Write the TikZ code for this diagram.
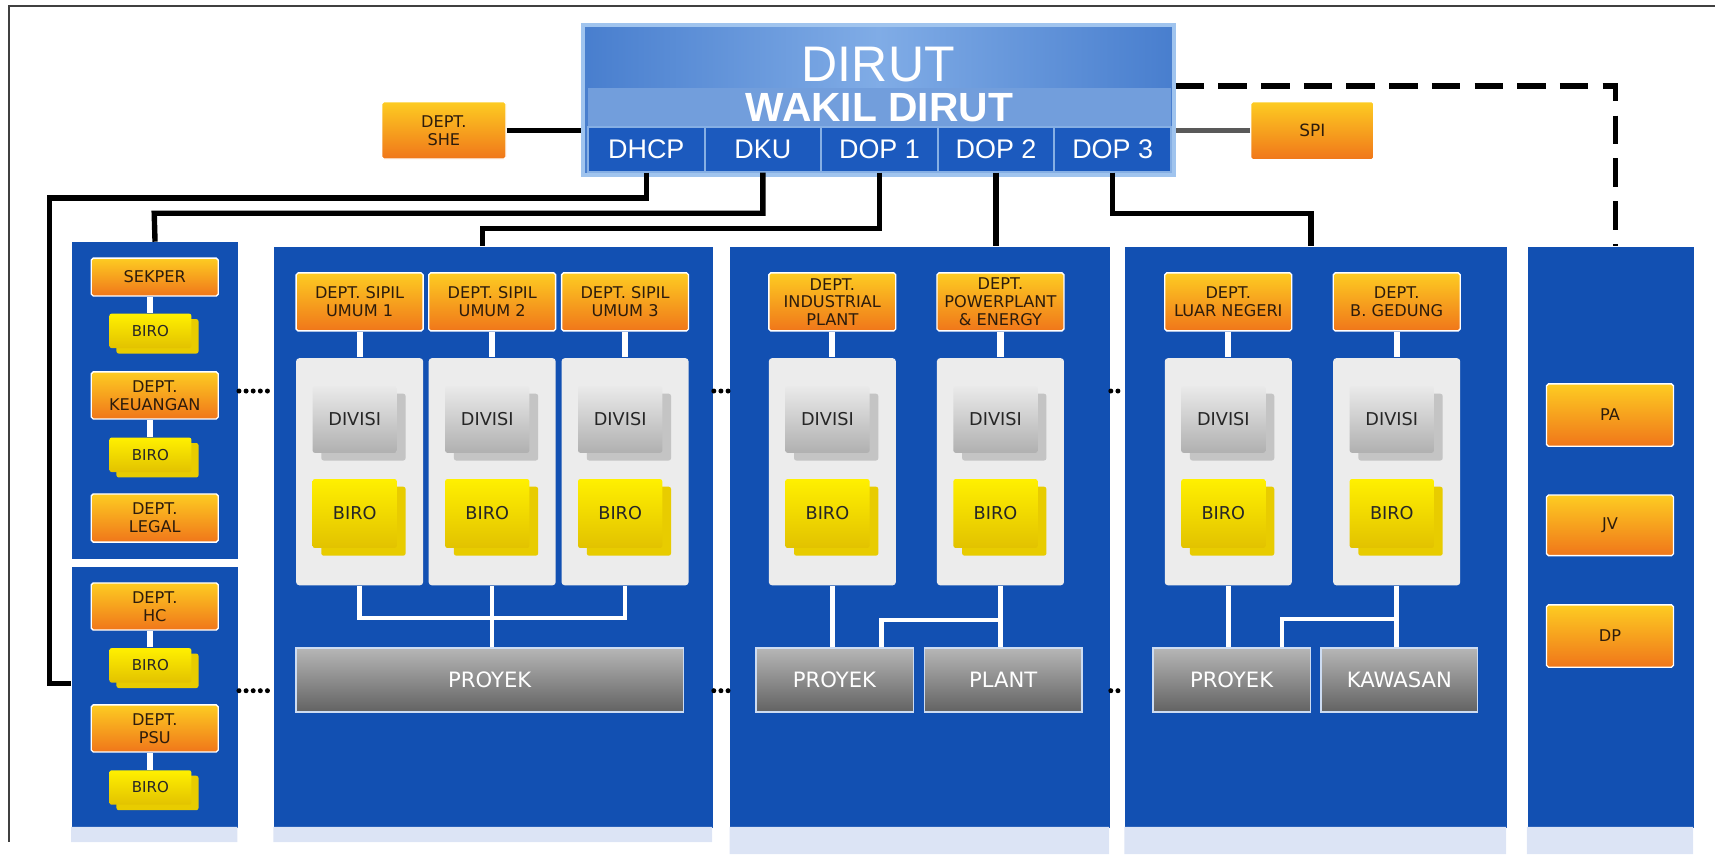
\documentclass[tikz,border=0pt]{standalone}
\usepackage{fontspec}
\setmainfont{DejaVu Sans}
\newfontfamily\headfont{Liberation Sans}
\usetikzlibrary{shadows}

\definecolor{panelblue}{RGB}{18,80,178}
\definecolor{stripblue}{RGB}{220,228,245}
\definecolor{deptTop}{RGB}{253,204,34}
\definecolor{deptBot}{RGB}{240,118,26}
\definecolor{deptText}{RGB}{45,28,12}
\definecolor{contGray}{RGB}{236,236,236}
\definecolor{divTop}{RGB}{234,234,234}
\definecolor{divBot}{RGB}{176,176,176}
\definecolor{divBack}{RGB}{196,196,196}
\definecolor{biroTop}{RGB}{255,240,0}
\definecolor{biroBot}{RGB}{226,194,0}
\definecolor{biroBack}{RGB}{232,204,0}
\definecolor{unitTop}{RGB}{182,182,182}
\definecolor{unitBot}{RGB}{98,98,98}
\definecolor{unitEdge}{RGB}{205,220,242}
\definecolor{dirutA}{RGB}{72,126,206}
\definecolor{dirutB}{RGB}{128,172,230}
\definecolor{dirutEdge}{RGB}{160,196,238}
\definecolor{wakilBand}{RGB}{114,158,220}
\definecolor{cellBlue}{RGB}{28,90,190}

\tikzset{
  panel/.style={fill=panelblue, anchor=north west, inner sep=0pt},
  orangebox/.style={top color=deptTop, bottom color=deptBot, draw=white,
    line width=0.35pt, rounded corners=0.5pt, text=deptText, align=center,
    inner sep=0pt, font=\fontsize{4.2}{4.6}\selectfont},
  dept/.style={orangebox, minimum width=1.16cm, minimum height=0.53cm},
  sidedept/.style={orangebox, minimum width=1.16cm, minimum height=0.43cm},
  cont/.style={fill=contGray, rounded corners=0.8pt, inner sep=0pt,
    minimum width=1.16cm, minimum height=2.075cm},
  divisi/.style={top color=divTop, bottom color=divBot, rounded corners=0.6pt,
    inner sep=0pt, minimum width=0.77cm, minimum height=0.61cm, text=black!85,
    font=\fontsize{4.6}{5}\selectfont,
    general shadow={fill=divBack, shadow xshift=0.08cm, shadow yshift=-0.07cm}},
  birobase/.style={top color=biroTop, bottom color=biroBot, rounded corners=0.6pt,
    inner sep=0pt, text=black!85},
  biro/.style={birobase, minimum width=0.77cm, minimum height=0.63cm,
    font=\fontsize{4.6}{5}\selectfont,
    general shadow={fill=biroBack, shadow xshift=0.08cm, shadow yshift=-0.07cm}},
  sidebiro/.style={birobase, minimum width=0.75cm, minimum height=0.315cm,
    font=\fontsize{3.9}{4}\selectfont,
    general shadow={fill=biroBack, shadow xshift=0.065cm, shadow yshift=-0.05cm}},
  unit/.style={top color=unitTop, bottom color=unitBot, draw=unitEdge,
    line width=0.4pt, text=white, inner sep=0pt, minimum height=0.584cm,
    font=\fontsize{5.5}{6}\selectfont},
  cell/.style={fill=cellBlue, draw=dirutEdge!80!cellBlue, line width=0.5pt,
    inner sep=0pt, minimum width=1.066cm, minimum height=0.41cm, text=white,
    font=\headfont\fontsize{7}{7}\selectfont},
  link/.style={line width=1.4pt, black},
  dashlink/.style={line width=1.5pt, black, dash pattern=on 7.4pt off 3.7pt},
  wire/.style={line width=1.6pt, white},
  thinwire/.style={line width=1.2pt, white},
  dots/.style={line width=1.3pt, black, line cap=round,
    dash pattern=on 0pt off 1.85pt},
  frame/.style={line width=0.5pt, black!75}
}

\begin{document}
\begin{tikzpicture}[x=0.01cm, y=-0.01cm]
  \useasboundingbox (0,0) rectangle (1568,781);
  \draw[frame] (1568,5.5) -| (8,770);

  % panels
  \node[panel, minimum width=1.52cm, minimum height=2.89cm] (lp1) at (65,221) {};
  \node[panel, minimum width=1.52cm, minimum height=2.38cm] (lp2) at (65,518) {};
  \node[panel, minimum width=4.01cm, minimum height=5.31cm] (pc2) at (250,225) {};
  \node[panel, minimum width=3.47cm, minimum height=5.31cm] (pc3) at (667,225) {};
  \node[panel, minimum width=3.49cm, minimum height=5.31cm] (pc4) at (1028,225) {};
  \node[panel, minimum width=1.52cm, minimum height=5.31cm] (pc5) at (1396,225) {};
  \fill[stripblue]
    (65,756) rectangle (217,770)
    (250,756) rectangle (651,770)
    (667,756) rectangle (1014,781)
    (1028,756) rectangle (1377,781)
    (1396,756) rectangle (1548,781)
  ;

  % top
  \node[draw=dirutEdge, line width=1pt, left color=dirutA, right color=dirutA,
    middle color=dirutB, minimum width=5.40cm, minimum height=1.37cm,
    inner sep=0pt] (dirut) at (803,91.5) {};
  \node[text=white, inner sep=0pt, font=\headfont\fontsize{13}{13}\selectfont]
    (dirutlbl) at (803,59) {DIRUT};
  \node[fill=wakilBand, minimum width=5.33cm, minimum height=0.354cm,
    inner sep=0pt, text=white, font=\headfont\bfseries\fontsize{10.6}{10.6}\selectfont]
    (wakil) at (804.1,98.3) {WAKIL DIRUT};
  \foreach \n/\cx/\lbl in {dhcp/590.9/DHCP, dku/697.5/DKU, dop1/804.1/DOP 1,
      dop2/910.7/DOP 2, dop3/1017.3/DOP 3}
    \node[cell] (\n) at (\cx,136.5) {\lbl};

  \node[orangebox, minimum width=1.136cm, minimum height=0.524cm]
    (she) at (405.8,119.2) {DEPT.\\SHE};
  \node[orangebox, minimum width=1.125cm, minimum height=0.53cm,
    font=\fontsize{4.4}{4.6}\selectfont] (spi) at (1199.8,119.5) {SPI};
  \draw[link] (she.east) -- (she.east -| dirut.west);
  \draw[link, black!65] (spi.west) -- (spi.west -| dirut.east);

  % left panels
  \node[sidedept, minimum height=0.346cm] (sekper) at (141.5,253.3) {SEKPER};
  \node[sidebiro] (sbiro1) at (137.5,302.5) {BIRO};
  \node[sidedept] (keu) at (141.5,361.5) {DEPT.\\KEUANGAN};
  \node[sidebiro] (sbiro2) at (137.5,415.8) {BIRO};
  \node[sidedept, minimum height=0.44cm] (legal) at (141.5,473.6) {DEPT.\\LEGAL};
  \node[sidedept] (hc) at (141.5,554.5) {DEPT.\\HC};
  \node[sidebiro] (sbiro3) at (137.5,608.3) {BIRO};
  \node[sidedept] (psu) at (141.5,666) {DEPT.\\PSU};
  \node[sidebiro] (sbiro4) at (137.5,720) {BIRO};
  \draw[wire]
    (sbiro1.north) -- (sbiro1.north |- sekper.south)
    (sbiro2.north) -- (sbiro2.north |- keu.south)
    (sbiro3.north) -- (sbiro3.north |- hc.south)
    (sbiro4.north) -- (sbiro4.north |- psu.south)
  ;

  % columns
  \foreach \n/\cx/\lbl in {
      1/328.8/{DEPT. SIPIL\\UMUM 1},
      2/450/{DEPT. SIPIL\\UMUM 2},
      3/571.5/{DEPT. SIPIL\\UMUM 3},
      4/761/{DEPT.\\INDUSTRIAL\\PLANT},
      5/914.7/{DEPT.\\POWERPLANT\\\& ENERGY},
      6/1123/{DEPT.\\LUAR NEGERI},
      7/1277/{DEPT.\\B. GEDUNG}}
  {
    \node[dept] (dept\n) at (\cx,276) {\lbl};
    \node[cont] (cont\n) at (\cx,431.3) {};
    \node[divisi] (div\n) at (\cx-4.5,383.5) {DIVISI};
    \node[biro] (biro\n) at (\cx-4.5,469.5) {BIRO};
    \draw[wire] (dept\n.south) -- (cont\n.north);
  }

  \node[unit, minimum width=3.54cm] (proyek1) at (447.8,621.8) {PROYEK};
  \node[unit, minimum width=1.44cm] (proyek2) at (763,621.8) {PROYEK};
  \node[unit, minimum width=1.44cm] (plant) at (917.3,621.8) {PLANT};
  \node[unit, minimum width=1.44cm] (proyek3) at (1126,621.8) {PROYEK};
  \node[unit, minimum width=1.43cm] (kawasan) at (1279.5,621.8) {KAWASAN};

  \node[orangebox, minimum width=1.16cm, minimum height=0.57cm] (pa) at (1472,379.5) {PA};
  \node[orangebox, minimum width=1.16cm, minimum height=0.554cm] (jv) at (1472,480.3) {JV};
  \node[orangebox, minimum width=1.16cm, minimum height=0.57cm] (dp) at (1472,581.5) {DP};

  \coordinate (bus2) at (450,565);
  \coordinate (bus3) at (806,567);
  \coordinate (bus4) at (1172,566);
  \draw[thinwire]
    (cont1.south) |- (cont3.south |- bus2) -- (cont3.south)
    (cont2.south) -- (cont2.south |- proyek1.north)
    (cont4.south) -- (cont4.south |- proyek2.north)
    (cont5.south) -- (cont5.south |- plant.north)
    (cont5.south |- bus3) -- (bus3) -- (bus3 |- proyek2.north)
    (cont6.south) -- (cont6.south |- proyek3.north)
    (cont7.south) -- (cont7.south |- kawasan.north)
    (cont7.south |- bus4) -- (bus4) -- (bus4 |- proyek3.north)
  ;

  % links from the top
  \coordinate (hcbend) at (45,181);
  \coordinate (hcin) at (65,625);
  \coordinate (kubend) at (141,195);
  \coordinate (op1bend) at (441,209);
  \coordinate (op3bend) at (1198.6,195);
  \coordinate (vpbend) at (1477,78.5);
  \draw[link] (dhcp.south) |- (hcbend) |- (hcin);
  \draw[link] (dku.south) |- (kubend) -- (lp1.north);
  \draw[link] (dop1.south) |- (op1bend) -- (op1bend |- pc2.north);
  \draw[link] (dop2.south) -- (dop2.south |- pc3.north);
  \draw[link] (dop3.south) |- (op3bend) -- (op3bend |- pc4.north);
  \draw[dashlink] (dirut.east |- vpbend) -- (vpbend) -- (vpbend |- pc5.north);

  \draw[dots]
    (lp1.east |- 0,357.5) -- (pc2.west |- 0,357.5)
    (lp2.east |- 0,631.5) -- (pc2.west |- 0,631.5)
    (pc2.east |- 0,357.5) -- (pc3.west |- 0,357.5)
    (pc2.east |- 0,631.5) -- (pc3.west |- 0,631.5)
    (pc3.east |- 0,357.5) -- (pc4.west |- 0,357.5)
    (pc3.east |- 0,631.5) -- (pc4.west |- 0,631.5)
  ;
\end{tikzpicture}
\end{document}
